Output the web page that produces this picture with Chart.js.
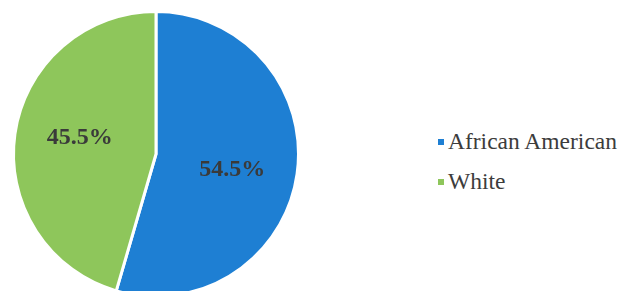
<!DOCTYPE html>
<html>
<head>
<meta charset="utf-8">
<script src="https://cdn.jsdelivr.net/npm/chart.js@4.4.1/dist/chart.umd.min.js"></script>
<style>
    html, body {
        margin: 0;
        padding: 0;
        width: 634px;
        height: 291px;
        overflow: hidden;
        background: #ffffff;
    }
    .pie-wrap {
        position: absolute;
        left: -1px;
        top: -3px;
        width: 314px;
        height: 314px;
    }
    .legend {
        position: absolute;
        left: 438px;
        top: 121px;
        font-family: 'Liberation Serif', 'DejaVu Serif', serif;
        font-size: 23.5px;
        color: #3c3c3c;
    }
    .legend-item {
        display: flex;
        align-items: center;
        height: 40px;
    }
    .legend-dot {
        width: 6px;
        height: 6px;
        margin-right: 4px;
        margin-top: 1px;
    }
</style>
</head>
<body>
<div class="pie-wrap"><canvas id="pieChart"></canvas></div>
<div class="legend" id="chartLegend"></div>
<script>
// values
const labels = ['African American', 'White'];
const shares = [54.5, 45.5];
const colors = ['#1e7fd3', '#8ec65b'];

// draws "54.5%" style labels inside each slice
const sliceLabels = {
    id: 'sliceLabels',
    afterDatasetsDraw(chart) {
        const ctx = chart.ctx;
        const meta = chart.getDatasetMeta(0);
        ctx.save();
        ctx.font = 'bold 24px "Liberation Serif", "DejaVu Serif", serif';
        ctx.fillStyle = '#3a3a3a';
        ctx.textAlign = 'center';
        ctx.textBaseline = 'middle';
        meta.data.forEach((arc, i) => {
            const mid = (arc.startAngle + arc.endAngle) / 2;
            const r = arc.outerRadius * 0.54;
            const x = arc.x + Math.cos(mid) * r;
            // push a little further from the horizontal, like the original
            const y = arc.y + Math.sin(mid) * r + Math.sign(Math.sin(mid)) * 5;
            ctx.fillText(shares[i].toFixed(1) + '%', x, y);
        });
        ctx.restore();
    }
};

new Chart(document.getElementById('pieChart'), {
    type: 'pie',
    data: {
        labels: labels,
        datasets: [{
            data: shares,
            backgroundColor: colors,
            borderColor: '#ffffff',
            borderWidth: 3,
            hoverOffset: 0
        }]
    },
    options: {
        responsive: true,
        maintainAspectRatio: false,
        animation: false,
        layout: { padding: 13 },
        plugins: {
            legend: { display: false },
            tooltip: { enabled: false }
        }
    },
    plugins: [sliceLabels]
});

document.getElementById('chartLegend').innerHTML = labels.map((label, i) => `
    <div class="legend-item">
        <span class="legend-dot" style="background: ${colors[i]}"></span>
        <span>${label}</span>
    </div>
`).join('');
</script>
</body>
</html>
